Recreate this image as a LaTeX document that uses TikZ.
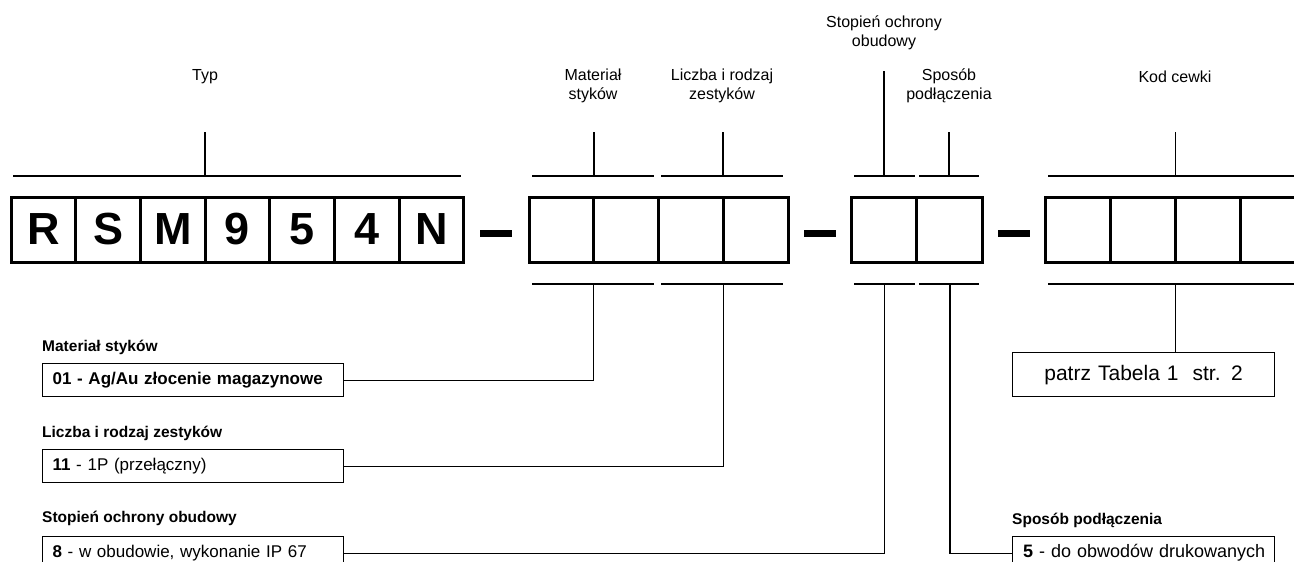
\documentclass[tikz,border=0pt]{standalone}
\usepackage{fontspec}
\setmainfont{Liberation Sans}
\begin{document}
\begin{tikzpicture}[x=1pt,y=-1pt,
  cell/.style={draw, line width=3pt, minimum width=64.7pt, minimum height=65pt, inner sep=0pt, font=\fontsize{45}{50}\selectfont\bfseries},
  dashbar/.style={fill=black, minimum width=32pt, minimum height=7pt, inner sep=0pt},
  toplab/.style={font=\fontsize{16}{19}\selectfont, align=center, inner sep=0pt},
  sublab/.style={font=\fontsize{15.5}{18}\selectfont\bfseries, inner sep=0pt, anchor=west},
  descbox/.style={draw, line width=1.2pt, anchor=north west, minimum height=33pt, text width=281pt, inner xsep=10pt, inner ysep=0pt, align=left, font=\fontsize{17}{20}\selectfont},
  brk/.style={line width=1.8pt},
  conn/.style={line width=1.2pt}]
\useasboundingbox (0,0) rectangle (1294,562);
\clip (0,0) rectangle (1294,562);
% cells
\foreach \t [count=\i] in {R,S,M,9,5,4,N}
  \node[cell] (a\i) at ({11+64.7*(\i-0.5)},229.5) {\t};
\foreach \i in {1,...,4}
  \node[cell, minimum width=64.75pt] (b\i) at ({529+64.75*(\i-0.5)},229.5) {};
\foreach \i in {1,2}
  \node[cell, minimum width=65.5pt] (c\i) at ({851+65.5*(\i-0.5)},229.5) {};
\foreach \i in {1,...,4}
  \node[cell, minimum width=65pt] (d\i) at ({1045+65*(\i-0.5)},229.5) {};
% dashes
\node[dashbar] (m1) at (496,233.5) {};
\node[dashbar] (m2) at (819.5,233.5) {};
\node[dashbar] (m3) at (1013.5,233.5) {};
% top labels
\node[toplab] (lTyp) at (205,77) {Typ};
\node[toplab] (lMat) at (593,86) {Materiał\\styków};
\node[toplab] (lLicz) at (722,86) {Liczba i rodzaj\\zestyków};
\node[toplab] (lStop) at (884,33) {Stopień ochrony\\obudowy};
\node[toplab] (lSpos) at (949,86) {Sposób\\podłączenia};
\node[toplab] (lKod) at (1175,77) {Kod cewki};
% upper brackets
\draw[brk] (13,176) -- (461,176);  \draw[brk] (205,132) -- (205,176);
\draw[brk] (532,176) -- (654,176); \draw[brk] (593.75,132) -- (593.75,176);
\draw[brk] (661,176) -- (783,176); \draw[brk] (723.25,132) -- (723.25,176);
\draw[brk] (854,176) -- (915,176); \draw[brk] (884,71) -- (884,176);
\draw[brk] (919,176) -- (979,176); \draw[brk] (949,132) -- (949,176);
\draw[brk] (1048,176) -- (1300,176); \draw[brk] (1175.5,132) -- (1175.5,176);
% lower brackets
\draw[brk] (532,284) -- (654,284);
\draw[brk] (661,284) -- (783,284);
\draw[brk] (854,284) -- (915,284);
\draw[brk] (919,284) -- (979,284);
\draw[brk] (1048,284) -- (1300,284);
\coordinate (tMat) at (593.75,284);
\coordinate (tLicz) at (723.25,284);
\coordinate (tStop) at (884.5,284);
\coordinate (tSpos) at (950,284);
\coordinate (tKod) at (1175.5,284);
% lower labels and boxes
\node[sublab] (hMat) at (42,347) {Materiał styków};
\node[descbox] (eMat) at (42,363) {\textbf{01 - Ag/Au złocenie magazynowe}};
\node[sublab] (hLicz) at (42,433) {Liczba i rodzaj zestyków};
\node[descbox] (eLicz) at (42,449) {\textbf{11} - 1P (przełączny)};
\node[sublab] (hStop) at (42,518) {Stopień ochrony obudowy};
\node[descbox] (eStop) at (42,536) {\textbf{8} - w obudowie, wykonanie IP 67};
\node[sublab] (hSpos) at (1012,520) {Sposób podłączenia};
\node[descbox, text width=250pt, inner xsep=6pt, font=\fontsize{18}{21}\selectfont] (eSpos) at (1012,536) {\hspace*{4.5pt}\textbf{5} - do obwodów drukowanych};
\node[descbox, text width=262pt, inner xsep=0pt, minimum height=44pt, align=center, font=\fontsize{21}{24}\selectfont] (eKod) at (1012,352) {patrz Tabela 1\ \ str. 2};
% connectors
\draw[conn] (eMat.east) -| (tMat);
\draw[conn] (eLicz.east) -| (tLicz);
\draw[conn] (eStop.east) -| (tStop);
\draw[conn] (eSpos.west) -| (tSpos);
\draw[conn] (tKod) -- (tKod |- eKod.north);
\end{tikzpicture}
\end{document}
